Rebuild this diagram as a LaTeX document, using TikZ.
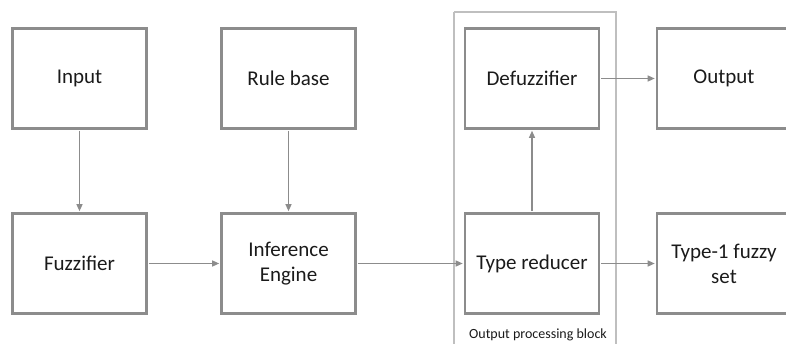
\documentclass[tikz,border=0pt]{standalone}
\usepackage{fontspec}
\setmainfont{Carlito}
\usetikzlibrary{arrows.meta}
\definecolor{boxgray}{HTML}{8C8C8C}
\definecolor{linegray}{HTML}{8C8C8C}
\definecolor{blockgray}{HTML}{BFBFBF}
\definecolor{txt}{HTML}{1A1A1A}
\begin{document}
\begin{tikzpicture}[x=1pt,y=-1pt,
  blk/.style={draw=boxgray, line width=2.4pt, minimum width=134pt, minimum height=100pt,
    inner sep=0pt, align=center, font=\fontsize{21}{25}\selectfont, text=txt},
  conn/.style={draw=linegray, line width=1.2pt, -{Triangle[length=7pt,width=6pt]}, shorten >=1.1pt, shorten <=1.1pt},
  outerblk/.style={draw=blockgray, line width=1.2pt}]
\useasboundingbox (0,0) rectangle (786,344);
\draw[outerblk] (454,12) -- (616,12) -- (616,360) (454,12) -- (454,360);
\node[font=\fontsize{14}{16}\selectfont, text=txt] (lbl) at (538,335) {Output processing block};
\node[blk] (in) at (79.5,78.5) {Input};
\node[blk] (rb) at (288.5,78.5) {Rule base};
\node[blk] (df) at (532,78.5) {Defuzzifier};
\node[blk] (out) at (724,78.5) {Output};
\node[blk] (fz) at (79.5,263.5) {Fuzzifier};
\node[blk] (ie) at (288.5,263.5) {Inference\\Engine};
\node[blk] (tr) at (532,263.5) {Type reducer};
\node[blk] (t1) at (724,263.5) {Type-1 fuzzy\\set};
\draw[conn] (in) -- (fz);
\draw[conn] (rb) -- (ie);
\draw[conn] (fz) -- (ie);
\draw[conn] (ie) -- (tr);
\draw[conn] (tr) -- (t1);
\draw[conn] (tr) -- (df);
\draw[conn] (df) -- (out);
\end{tikzpicture}
\end{document}
